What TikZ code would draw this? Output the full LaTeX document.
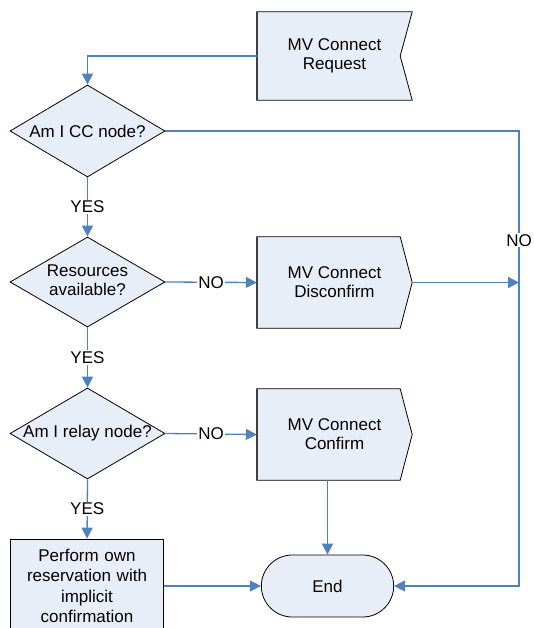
\documentclass[tikz,border=0pt]{standalone}
\usepackage{fontspec}
\setmainfont{Liberation Sans}
\usetikzlibrary{arrows.meta,shapes.geometric,shapes.misc,backgrounds}
\definecolor{flowblue}{HTML}{4F81BD}
\definecolor{shapefill}{HTML}{E8EEF8}
\begin{document}
\begin{tikzpicture}[x=1pt,y=-1pt,
  font=\fontsize{17}{19}\selectfont,
  conn/.style={draw=flowblue,line width=1.3pt,-{Triangle[length=11pt,width=11pt]}},
  decision/.style={diamond,draw=black,fill=shapefill,line width=0.8pt,
    minimum width=155pt,inner sep=0pt},
  sig/.style={rectangle,minimum width=155pt,inner sep=0pt,align=center},
  outline/.style={draw=black,fill=shapefill,line width=0.8pt},
  leftedge/.style={draw=black!75,line width=1.6pt},
  lbl/.style={fill=white,inner sep=1pt}]
\useasboundingbox (0,0) rectangle (533,628);

% free end of the right-hand return line
\coordinate (rail) at (519,0);

% signal shapes (text nodes; outlines drawn below on the background layer)
\node[sig,minimum height=88pt] (req) at (334.5,56) {MV Connect\\Request};
\node[sig,minimum height=91pt] (dis) at (334.5,282.5) {MV Connect\\Disconfirm};
\node[sig,minimum height=91pt] (con) at (334.5,434.5) {MV Connect\\Confirm};

% decisions
\node[decision,minimum height=92pt] (d1) at (87.5,131) {\makebox[0pt]{Am I CC node?}};
\node[decision,minimum height=90pt] (d2) at (87.5,282)
  {\makebox[0pt]{\begin{tabular}{@{}c@{}}Resources\\available?\end{tabular}}};
\node[decision,minimum height=91pt] (d3) at (87.5,433.5) {\makebox[0pt]{Am I relay node?}};

% process and terminal
\node[rectangle,draw=black,fill=shapefill,line width=0.8pt,minimum width=153pt,
  minimum height=94pt,text width=148pt,align=center,inner sep=0pt,
  font=\fontsize{17}{20.5}\selectfont] (own) at (87,586)
  {Perform own\\reservation with\\implicit\\confirmation};
\node[rounded rectangle,draw=black,fill=shapefill,line width=0.8pt,
  minimum width=139pt,minimum height=62pt] (term) at (327.5,586) {End};

\begin{scope}[on background layer]
  % incoming request: notched right side
  \path[outline] (req.north west) -- (req.north east) -- ([xshift=-12pt]req.east)
    -- (req.south east) -- (req.south west) -- cycle;
  \draw[leftedge] (req.north west) -- (req.south west);
  % outgoing signals: pointed right side
  \path[outline] (dis.north west) -- ([xshift=-12pt]dis.north east) -- (dis.east)
    -- ([xshift=-12pt]dis.south east) -- (dis.south west) -- cycle;
  \draw[leftedge] (dis.north west) -- (dis.south west);
  \path[outline] (con.north west) -- ([xshift=-12pt]con.north east) -- (con.east)
    -- ([xshift=-12pt]con.south east) -- (con.south west) -- cycle;
  \draw[leftedge] (con.north west) -- (con.south west);
\end{scope}

% connectors
\draw[conn] (req.west) -| (d1.north);
\draw[conn] (d1.south) -- node[lbl] {YES} (d2.north);
\draw[conn] (d2.south) -- node[lbl] {YES} (d3.north);
\draw[conn] (d3.south) -- node[lbl] {YES} (own.north);
\draw[conn] (d2.east) -- node[lbl] {NO} (dis.west);
\draw[conn] (d3.east) -- node[lbl] {NO} (con.west);
\draw[conn] (dis.east) -- (dis.east -| rail);
\draw[conn] (d1.east) -- (d1.east -| rail)
  -- node[lbl,pos=0.24] {NO} (rail |- term.east) -- (term.east);
\draw[conn] (con.south -| term.north) -- (term.north);
\draw[conn] (own.east) -- (term.west);
\end{tikzpicture}
\end{document}
